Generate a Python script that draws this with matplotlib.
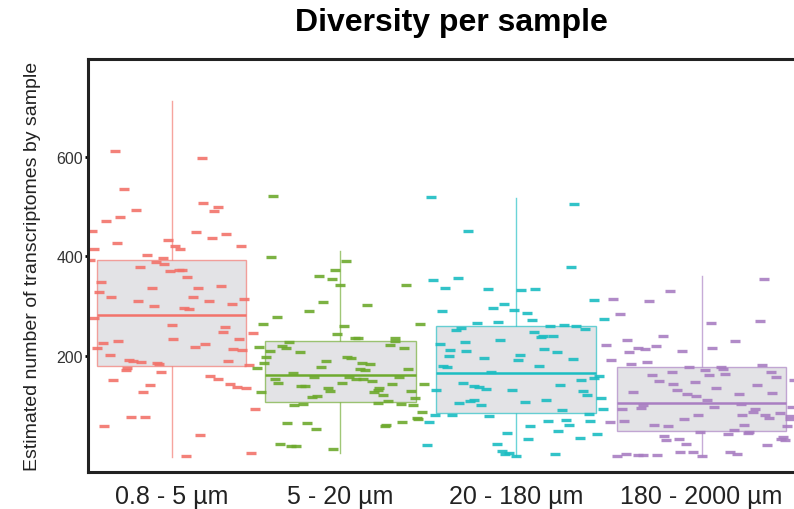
import matplotlib
matplotlib.use("Agg")
import matplotlib.pyplot as plt
from matplotlib.colors import to_rgba

SIZE_CLASSES = ["0.8 - 5 µm", "5 - 20 µm", "20 - 180 µm", "180 - 2000 µm"]
COLORS = ["#F2736B", "#6EAA2E", "#1CBDC2", "#A97EC2"]

# box summaries
Q1 = [179, 108, 86, 50]
MEDIANS = [282, 161, 165, 106]
Q3 = [393, 229, 260, 177]
WHISK_LO = [-2, 5, -1, -1]
WHISK_HI = [712, 411, 516, 360]

# per-sample estimates and their horizontal jitter (category units)
PICO_VALUES = [612, 598, 535, 507, 499, 490, 492, 478, 470, 450, 448, 445, 437, 426, 421,
               415, 433, 421, 415, 403, 393, 396, 389, 384, 379, 370, 372, 373, 358, 349,
               336, 336, 340, 328, 319, 318, 314, 310, 310, 304, 300, 297, 294, 277, 263,
               258, 249, 234, 233, 246, 226, 229, 217, 223, 213, 211, 215, 201, 192, 190,
               187, 185, 183, 189, 182, 175, 171, 167, 152, 159, 153, 143, 137, 135, 141,
               127, 93, 78, 77, 60, 42, 0, 6]
PICO_JITTER = [-0.32, 0.17, -0.27, 0.18, 0.26, 0.24, -0.20, -0.29, -0.37, -0.45, 0.14, 0.31, 0.23, -0.31, 0.39,
               -0.44, -0.02, 0.02, 0.05, -0.14, -0.46, -0.05, -0.09, -0.04, -0.18, -0.01, 0.04, 0.06, 0.09, -0.40,
               -0.11, 0.15, 0.28, -0.41, -0.34, 0.12, 0.41, -0.19, 0.21, 0.34, -0.10, 0.07, 0.10, -0.44, 0.00,
               0.30, 0.29, 0.01, 0.38, 0.46, -0.39, -0.30, 0.13, 0.19, 0.35, 0.40, -0.42, -0.35, -0.24, -0.22,
               -0.17, -0.08, -0.07, 0.32, 0.44, -0.25, -0.26, -0.06, -0.33, 0.22, 0.26, 0.33, 0.37, 0.42, -0.12,
               -0.16, 0.47, -0.23, -0.15, -0.38, 0.16, 0.08, 0.45]

NANO_VALUES = [521, 398, 390, 373, 360, 355, 343, 343, 308, 302, 290, 278, 264, 265, 261,
               245, 236, 236, 235, 229, 222, 227, 219, 215, 217, 215, 209, 207, 197, 198,
               196, 189, 185, 185, 184, 178, 175, 174, 171, 173, 166, 157, 158, 157, 153,
               153, 153, 145, 145, 149, 144, 144, 139, 140, 135, 135, 129, 132, 128, 128,
               129, 121, 119, 117, 116, 109, 104, 102, 105, 103, 101, 88, 76, 73, 66,
               65, 68, 62, 60, 54, 24, 19, 20, 14]
NANO_JITTER = [-0.38, -0.39, 0.03, -0.03, -0.12, -0.05, 0.00, 0.37, -0.10, 0.15, -0.18, -0.36, -0.44, 0.45, 0.02,
               -0.02, 0.08, 0.10, 0.31, 0.31, 0.28, -0.29, -0.33, -0.31, -0.46, 0.36, -0.40, -0.23, -0.42, 0.04,
               0.06, -0.08, -0.43, 0.12, 0.17, -0.11, -0.47, 0.11, 0.14, 0.38, -0.27, -0.15, 0.05, 0.33, 0.09,
               0.13, -0.37, -0.35, 0.01, 0.18, 0.29, 0.47, -0.22, -0.20, 0.22, -0.07, -0.06, 0.21, 0.19, -0.45,
               0.40, 0.24, -0.13, -0.16, 0.42, 0.27, -0.21, -0.26, 0.21, 0.34, 0.41, 0.46, 0.43, 0.44, -0.30,
               -0.19, 0.35, 0.26, 0.25, -0.14, -0.34, -0.28, -0.25, -0.04]

MICRO_VALUES = [518, 505, 451, 379, 352, 356, 336, 334, 332, 334, 313, 304, 297, 293, 290,
                286, 274, 273, 269, 266, 260, 262, 260, 253, 256, 254, 249, 240, 237, 240,
                232, 227, 223, 214, 212, 209, 207, 200, 201, 195, 191, 193, 179, 178, 180,
                167, 159, 155, 151, 145, 140, 137, 134, 141, 131, 131, 130, 121, 116, 112,
                109, 105, 107, 111, 101, 94, 92, 82, 82, 80, 84, 70, 71, 62, 70,
                68, 60, 50, 44, 46, 34, 35, 22, 24, 9, 6, 3, -1, 4]
MICRO_JITTER = [-0.48, 0.33, -0.27, 0.31, -0.47, -0.33, -0.40, -0.16, 0.03, 0.11, 0.44, -0.07, -0.13, -0.01, -0.42,
                0.06, 0.50, 0.09, -0.10, -0.22, 0.19, 0.27, 0.34, -0.34, -0.31, 0.39, 0.10, 0.15, 0.14, 0.21,
                -0.09, -0.29, -0.43, 0.16, -0.37, -0.28, 0.23, -0.38, 0.02, -0.18, 0.01, 0.32, -0.41, -0.39, 0.13,
                -0.14, 0.47, 0.44, 0.37, -0.30, -0.24, -0.21, -0.17, 0.25, -0.45, -0.02, 0.38, 0.40, 0.48, -0.24,
                -0.26, -0.32, 0.05, 0.17, -0.20, 0.49, 0.26, -0.46, -0.36, -0.15, 0.41, 0.18, 0.28, 0.30, 0.42,
                -0.49, 0.08, 0.24, 0.46, -0.05, 0.07, 0.36, -0.50, -0.11, -0.08, -0.04, -0.06, 0.00, 0.22]

MESO_VALUES = [355, 330, 314, 310, 284, 270, 267, 240, 232, 229, 221, 219, 215, 213, 215,
               207, 209, 191, 187, 183, 178, 181, 171, 177, 173, 164, 161, 167, 157, 162,
               167, 149, 148, 151, 143, 135, 141, 131, 127, 123, 119, 123, 125, 111, 101,
               96, 104, 98, 98, 93, 93, 88, 85, 82, 82, 82, 75, 80, 74, 74,
               70, 68, 62, 60, 61, 60, 52, 48, 48, 45, 44, 40, 38, 34, 31,
               31, 33, 23, 21, 8, 8, 7, 4, 3, -1, 1, 1, 2, -1]
MESO_JITTER = [0.35, -0.18, -0.50, -0.30, -0.46, 0.33, 0.05, -0.22, -0.42, 0.19, -0.54, -0.26, -0.36, -0.32, 0.06,
               -0.41, -0.11, -0.51, -0.31, -0.40, -0.07, 0.34, 0.02, 0.11, 0.12, 0.13, 0.04, 0.39, 0.42, -0.28,
               -0.17, -0.24, -0.04, 0.52, -0.16, 0.08, 0.31, -0.14, -0.39, -0.08, -0.03, 0.21, 0.40, 0.03, -0.33,
               -0.34, 0.22, 0.07, 0.51, -0.45, 0.30, 0.29, 0.44, -0.02, 0.23, 0.36, 0.38, 0.50, 0.50, -0.10,
               -0.44, -0.52, -0.27, -0.19, 0.24, 0.48, 0.18, -0.01, 0.27, 0.26, 0.15, -0.21, 0.46, 0.45, 0.47,
               -0.20, -0.13, -0.09, 0.37, -0.12, -0.05, 0.16, 0.20, -0.43, -0.48, -0.36, -0.33, -0.25, 0.00]

values = [PICO_VALUES, NANO_VALUES, MICRO_VALUES, MESO_VALUES]
jitters = [PICO_JITTER, NANO_JITTER, MICRO_JITTER, MESO_JITTER]

# the screenshot is slightly stretched to the right
positions = [1.0, 1.954, 2.946, 3.995]
widths = [0.846, 0.857, 0.904, 0.957]

plt.rcParams["font.family"] = ["Liberation Sans", "DejaVu Sans"]

fig = plt.figure(figsize=(7.94, 5.10), dpi=100)
ax = fig.add_axes([88 / 794, 1 - 473 / 510, 1 - 88 / 794, (473 - 59.5) / 510])

stats = []
for i in range(len(SIZE_CLASSES)):
    stats.append({"q1": Q1[i], "med": MEDIANS[i], "q3": Q3[i],
                  "whislo": WHISK_LO[i], "whishi": WHISK_HI[i], "fliers": []})

bp = ax.bxp(stats, positions=positions, widths=widths, showfliers=False,
            showcaps=False, patch_artist=True)

for i, col in enumerate(COLORS):
    bp["boxes"][i].set_facecolor("#E3E3E6")
    bp["boxes"][i].set_edgecolor(to_rgba(col, 0.65))
    bp["boxes"][i].set_linewidth(1.0)
    bp["boxes"][i].set_zorder(1)
    bp["medians"][i].set_color(col)
    bp["medians"][i].set_linewidth(1.8)
    bp["medians"][i].set_zorder(3)
    for w in bp["whiskers"][2 * i:2 * i + 2]:
        w.set_color(col)
        w.set_alpha(0.65)
        w.set_linewidth(1.0)
        w.set_zorder(0.5)

for i, col in enumerate(COLORS):
    xs = [positions[i] + j for j in jitters[i]]
    ax.plot(xs, values[i], ls="none", marker="_", ms=6.8, mew=2.4,
            color=col, alpha=0.9, zorder=2)

ax.set_xlim(0.528, 0.528 + 706 / 177)
ax.set_ylim(-33, 797)
ax.set_xticks(positions)
ax.set_xticklabels(SIZE_CLASSES, fontsize=18, color="#222222")
ax.set_yticks([200, 400, 600])
ax.set_yticklabels(["200", "400", "600"], fontsize=11.5, color="#333333")
ax.tick_params(axis="x", length=0, pad=9)
ax.tick_params(axis="y", length=2.5, width=2, color="black", pad=1)

for side in ["left", "bottom", "top"]:
    ax.spines[side].set_linewidth(2.2)
    ax.spines[side].set_color("#222222")
ax.spines["right"].set_visible(False)

ax.set_ylabel("Estimated number of transcriptomes by sample", fontsize=14,
              color="#222222", labelpad=11)

fig.text(451 / 794, 1 - 23 / 510, "Diversity per sample", ha="center", va="center",
         fontsize=23, fontweight="bold")

fig.savefig("out.png", dpi=100)
